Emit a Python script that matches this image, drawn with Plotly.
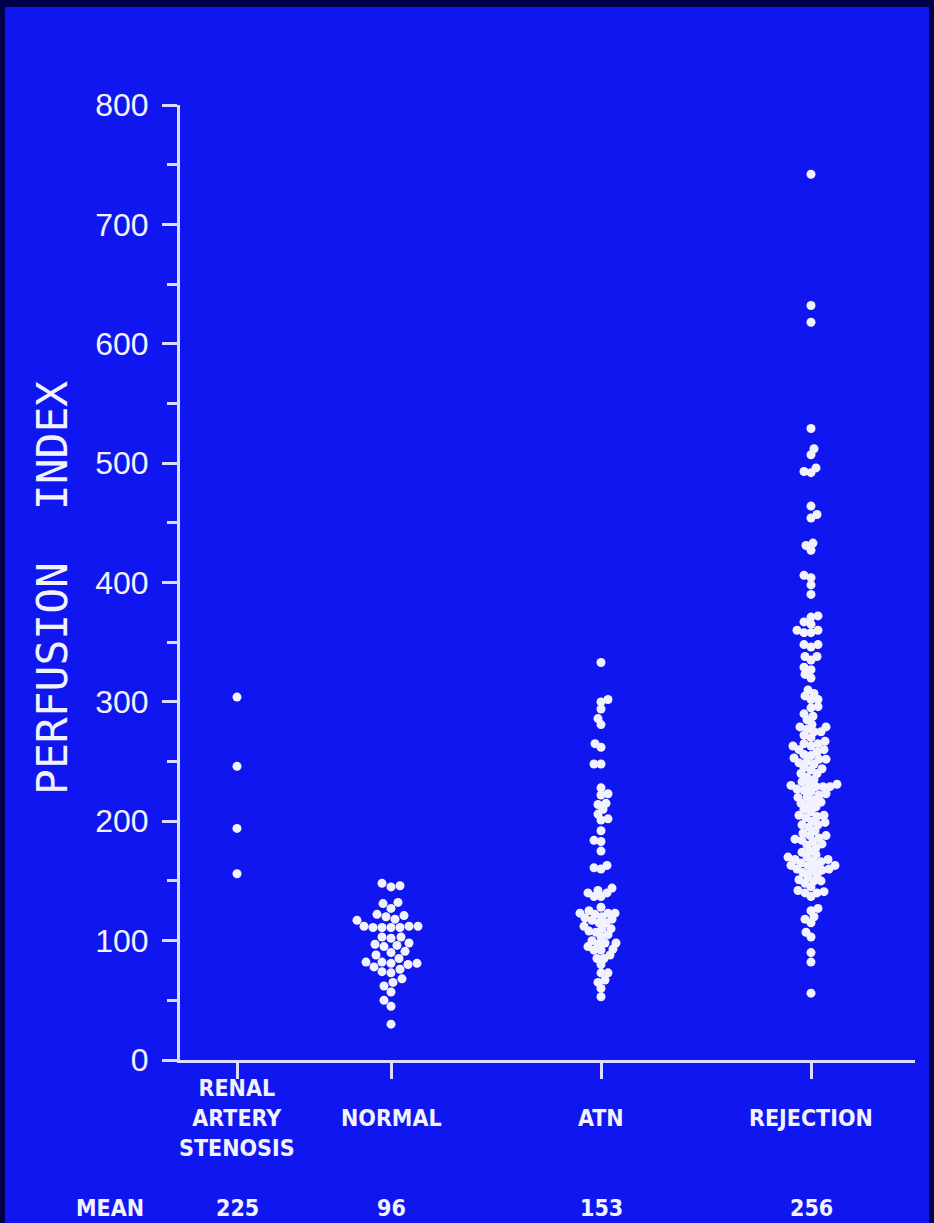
import numpy as np
import plotly.graph_objects as go

# ---------------- data ----------------
categories = ["RENAL<br>ARTERY<br>STENOSIS", "NORMAL", "ATN", "REJECTION"]
mean_labels = ["225", "96", "153", "256"]

renal_artery_stenosis = [304, 246, 194, 156]

normal = [148, 146, 145, 132, 131, 127, 122, 121, 120, 118, 117, 112, 111, 111,
          112, 111, 112, 111, 103, 103, 102, 97, 98, 95, 96, 90, 91, 81, 81, 82,
          80, 82, 73, 74, 65, 57, 50, 30, 78, 76, 85, 88, 68, 62, 45]

atn = [333, 300, 302, 294, 281, 286, 262, 265, 248, 248, 228, 223, 222, 215, 214,
       210, 206, 202, 201, 192, 183, 184, 175, 160, 161, 163, 137, 140, 142, 144,
       140, 137, 123, 125, 123, 123, 122, 119, 115, 117, 115, 118, 108, 107, 110,
       100, 98, 98, 97, 92, 92, 93, 85, 85, 73, 73, 65, 67, 60, 53,
       128, 112, 105, 103, 95, 88, 80, 120, 110]

rejection = [742, 632, 618, 529, 512, 507, 492, 493, 496, 464, 457, 454, 427, 431,
             433, 404, 406, 398, 390,
             367, 371, 372, 365, 360, 358, 358, 360, 348, 346, 348, 338, 338, 335,
             327, 329, 323,
             310, 307, 302, 302, 296, 288, 290, 279, 281, 279,
             275, 272, 277, 265, 263, 263, 267, 258, 256, 260, 253, 252, 249, 252,
             243, 240, 244, 237,
             225, 229, 231, 229, 227, 233, 229, 231, 220, 220, 223,
             216, 212, 214, 205, 204, 208, 203, 197, 197, 199, 190, 188, 192,
             183, 184, 181, 186,
             168, 170, 167, 172, 168, 163, 163, 159, 160, 163, 157,
             150, 151, 148, 142, 140, 137, 141, 127, 125, 120, 118, 115,
             107, 103, 90, 82, 56,
             150, 153, 155, 158, 160, 162, 165, 166, 170, 174, 175, 178, 180, 185,
             188, 195, 200, 205, 210, 215, 218, 222, 226, 230, 235, 240, 245, 248,
             250, 255, 260, 265, 270, 275, 285, 295, 305, 320, 140, 145]

groups = [renal_artery_stenosis, normal, atn, rejection]

y_tickvals = [0, 100, 200, 300, 400, 500, 600, 700, 800]
y_minor = [50, 150, 250, 350, 450, 550, 650, 750]

# ---------------- layout geometry ----------------
W, H = 934, 1223
ML, MR, MT, MB = 180, 19, 105, 163
PW = W - ML - MR
PH = H - MT - MB
Y_MAX = 800
# category centres along the x axis, in plot pixels from the y axis
cat_x = [57, 211, 421, 631]
swarm_gap = [8, 9, 6.5, 6.5]

BG = "#1016f0"
FG = "#f2f2ff"
LINE = "#dcdcff"
FRAME = "#000048"

DOT = 9
px_per_unit = PH / Y_MAX


def swarm(values, diam):
    """Simple beeswarm: x offsets (pixels) so dots do not overlap much."""
    vals = np.asarray(values, dtype=float)
    order = np.argsort(vals)
    placed = []
    xs = np.zeros(len(vals))
    for n, i in enumerate(order):
        y = vals[i] * px_per_unit
        chosen = None
        k = 0
        while chosen is None:
            cands = [0.0] if k == 0 else ([k, -k] if n % 2 else [-k, k])
            for x in cands:
                if all((x - px) ** 2 + (y - py) ** 2 >= diam ** 2 for px, py in placed):
                    chosen = x
                    break
            k += 1
        xs[i] = chosen
        placed.append((chosen, y))
    return xs


def px2paper_x(px):
    return (px - ML) / PW


def py2paper_y(py):
    return (H - MB - py) / PH


fig = go.Figure()
for g, cx, gap in zip(groups, cat_x, swarm_gap):
    offs = swarm(g, gap)
    fig.add_trace(go.Scatter(
        x=cx + offs, y=g, mode="markers",
        marker=dict(size=DOT, color=FG, line=dict(width=0)),
        hoverinfo="y", showlegend=False))

annotations = []
label_font = dict(family="Liberation Sans Narrow, DejaVu Sans Condensed, Roboto, sans-serif",
                  size=23, color=FG)
ROW_Y = 1118
for lab, cx in zip(categories, cat_x):
    annotations.append(dict(x=cx, y=py2paper_y(ROW_Y), xref="x", yref="paper",
                            text="<b>" + lab + "</b>", showarrow=False,
                            font=label_font, xanchor="center", yanchor="middle"))
for m, cx in zip(mean_labels, cat_x):
    annotations.append(dict(x=cx, y=py2paper_y(1208), xref="x", yref="paper",
                            text="<b>" + m + "</b>", showarrow=False,
                            font=label_font, xanchor="center", yanchor="middle"))
annotations.append(dict(x=px2paper_x(110), y=py2paper_y(1208), xref="paper", yref="paper",
                        text="<b>MEAN</b>", showarrow=False,
                        font=label_font, xanchor="center", yanchor="middle"))
annotations.append(dict(x=px2paper_x(52), y=py2paper_y(588), xref="paper", yref="paper",
                        text="PERFUSION  INDEX", textangle=-90, showarrow=False,
                        font=dict(family="DejaVu Sans Mono, Liberation Mono, monospace",
                                  size=43, color=FG),
                        xanchor="center", yanchor="middle"))

shapes = [
    dict(type="rect", xref="paper", yref="paper", layer="above", line=dict(width=0),
         fillcolor=FRAME, x0=px2paper_x(0), x1=px2paper_x(W), y0=py2paper_y(7), y1=py2paper_y(0)),
    dict(type="rect", xref="paper", yref="paper", layer="above", line=dict(width=0),
         fillcolor=FRAME, x0=px2paper_x(0), x1=px2paper_x(5), y0=py2paper_y(H), y1=py2paper_y(0)),
    dict(type="rect", xref="paper", yref="paper", layer="above", line=dict(width=0),
         fillcolor=FRAME, x0=px2paper_x(W - 5), x1=px2paper_x(W), y0=py2paper_y(H), y1=py2paper_y(0)),
]

fig.update_layout(
    width=W, height=H,
    margin=dict(l=ML, r=MR, t=MT, b=MB, pad=0),
    paper_bgcolor=BG, plot_bgcolor=BG,
    annotations=annotations, shapes=shapes,
    xaxis=dict(range=[0, PW], tickvals=cat_x, ticktext=["" for _ in cat_x],
               showline=True, linecolor=LINE, linewidth=3, ticks="outside",
               ticklen=16, tickwidth=3, tickcolor=LINE, showgrid=False, zeroline=False,
               fixedrange=True),
    yaxis=dict(range=[0, Y_MAX], tickvals=y_tickvals, showline=True, linecolor=LINE,
               linewidth=3, ticks="outside", ticklen=15, tickwidth=3, tickcolor=LINE,
               ticklabelstandoff=7,
               tickfont=dict(family="Liberation Sans, Arial, sans-serif", size=32, color=FG),
               showgrid=False, zeroline=False, fixedrange=True,
               minor=dict(tickvals=y_minor, ticks="outside", ticklen=10, tickwidth=3,
                          tickcolor=LINE, showgrid=False)),
)

fig.write_html("out.html")
